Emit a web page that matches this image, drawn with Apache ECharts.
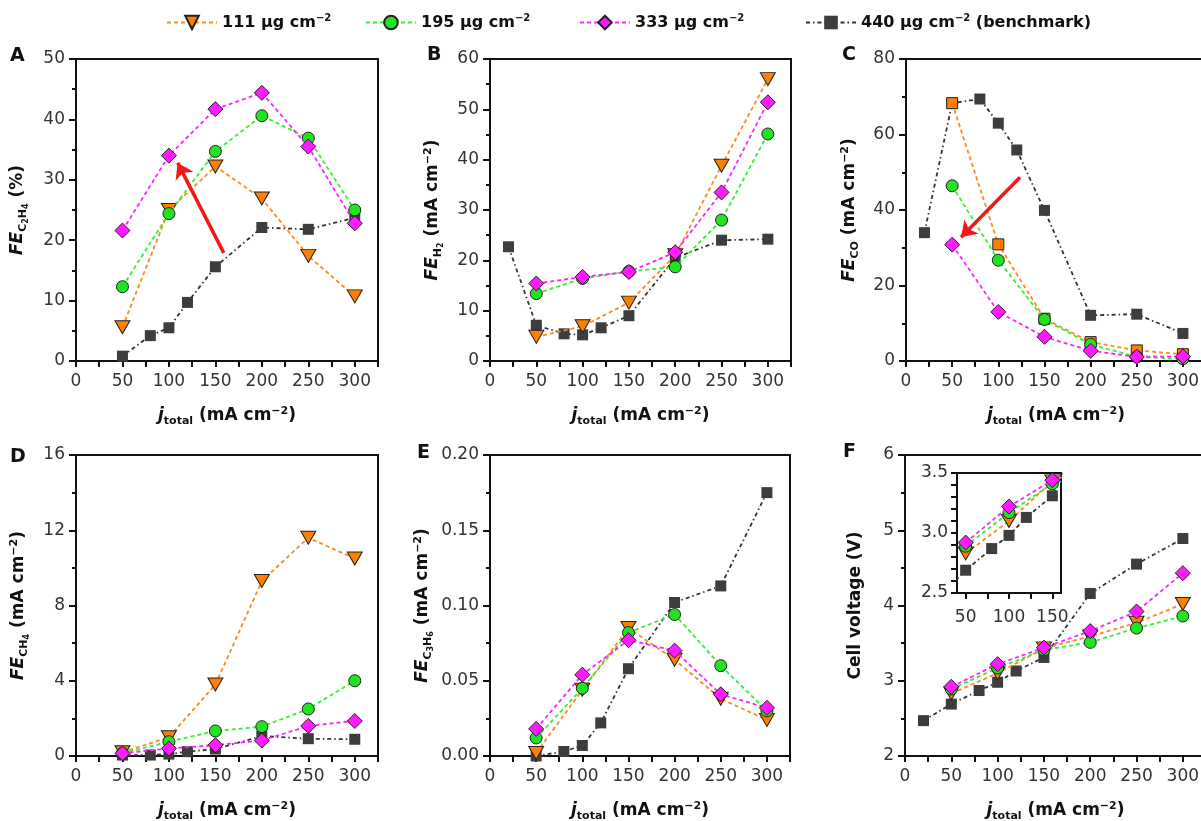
<!DOCTYPE html>
<html>
<head>
<meta charset="utf-8">
<script src="https://cdn.jsdelivr.net/npm/echarts@6/dist/echarts.min.js"></script>
<style>
  html, body { margin: 0; padding: 0; background: #fff; }
  #chart { width: 1201px; height: 821px; }
</style>
</head>
<body>
<div id="chart"></div>
<script>
// x values: j_total (mA cm-2)
const jSamples = [50, 100, 150, 200, 250, 300];
const jBenchShort = [50, 80, 100, 120, 150, 200, 250, 300];
const jBenchLong = [20, 50, 80, 100, 120, 150, 200, 250, 300];

// A - FE C2H4 (%)
const c2h4_111 = [5.6, 25.0, 32.2, 26.9, 17.4, 10.7];
const c2h4_195 = [12.3, 24.4, 34.7, 40.6, 36.9, 25.0];
const c2h4_333 = [21.6, 34.0, 41.7, 44.4, 35.5, 22.8];
const c2h4_440 = [0.8, 4.2, 5.5, 9.7, 15.6, 22.1, 21.8, 23.7];

// B - FE H2
const h2_111 = [4.8, 6.9, 11.6, 21.0, 38.8, 56.0];
const h2_195 = [13.4, 16.4, 17.8, 18.7, 28.0, 45.1];
const h2_333 = [15.4, 16.7, 17.7, 21.6, 33.5, 51.4];
const h2_440 = [22.7, 7.1, 5.4, 5.2, 6.6, 9.0, 20.5, 24.0, 24.2];

// C - FE CO
const co_111 = [68.3, 30.9, 11.2, 5.0, 2.8, 1.8];
const co_195 = [46.4, 26.7, 11.0, 4.4, 1.1, 0.6];
const co_333 = [30.8, 13.0, 6.4, 2.7, 1.1, 1.2];
const co_440 = [34.0, 68.3, 69.4, 63.0, 55.9, 39.9, 12.1, 12.4, 7.3];

// D - FE CH4
const ch4_111 = [0.2, 1.0, 3.8, 9.3, 11.6, 10.5];
const ch4_195 = [0.15, 0.76, 1.33, 1.56, 2.5, 4.0];
const ch4_333 = [0.14, 0.4, 0.58, 0.82, 1.6, 1.86];
const ch4_440 = [0.05, 0.05, 0.1, 0.23, 0.37, 1.06, 0.92, 0.89];

// E - FE C3H6
const c3h6_111 = [0.002, 0.044, 0.085, 0.064, 0.038, 0.024];
const c3h6_195 = [0.012, 0.045, 0.082, 0.094, 0.060, 0.030];
const c3h6_333 = [0.018, 0.054, 0.077, 0.070, 0.041, 0.032];
const c3h6_440 = [0, 0.003, 0.007, 0.022, 0.058, 0.102, 0.113, 0.175];

// F - cell voltage (V)
const volt_111 = [2.83, 3.10, 3.43, 3.59, 3.77, 4.02];
const volt_195 = [2.89, 3.17, 3.41, 3.51, 3.70, 3.86];
const volt_333 = [2.92, 3.22, 3.44, 3.66, 3.92, 4.43];
const volt_440 = [2.47, 2.69, 2.87, 2.98, 3.13, 3.31, 4.16, 4.55, 4.89];

// tick labels
const xTickValues = [0, 25, 50, 75, 100, 125, 150, 175, 200, 225, 250, 275, 300, 325];
const xLabelValues = [0, 50, 100, 150, 200, 250, 300];
const insetTickValues = [50, 75, 100, 125, 150];
const insetLabelValues = [50, 100, 150];

// legend
const seriesNames = ['111', '195', '333', '440'];
const legendLabels = [
  '{b|111 µg cm}{sup|−2}',
  '{b|195 µg cm}{sup|−2}',
  '{b|333 µg cm}{sup|−2}',
  '{b|440 µg cm}{sup|−2}{b| (benchmark)}'
];

// red arrows (data coords: from -> to)
const arrowA = [[159, 17.9], [109.4, 32.8]];
const arrowC = [[123.6, 48.7], [59.6, 32.8]];

const FONT = 'DejaVu Sans';
const INK = '#111';

const looks = {
  '111': { color: '#FF7F00', line: '#FF8A1A', symbol: 'triangle', size: [15, 13], rotate: 180, dash: [4, 3] },
  '195': { color: '#22E322', line: '#33EE33', symbol: 'circle', size: 12, rotate: 0, dash: [4, 3] },
  '333': { color: '#FF1AFF', line: '#FF22FF', symbol: 'diamond', size: [15, 15], rotate: 0, dash: [4, 3] },
  '440': { color: '#3d3d3d', line: '#333333', symbol: 'rect', size: 11, rotate: 0, dash: [4, 3, 1.5, 3] }
};

const rich = {
  it: { fontFamily: FONT, fontSize: 17, fontWeight: 'bold', fontStyle: 'italic', color: INK },
  b: { fontFamily: FONT, fontSize: 17, fontWeight: 'bold', color: INK },
  sub: { fontFamily: FONT, fontSize: 11, fontWeight: 'bold', color: INK, padding: [12, 0, 0, 0] },
  sub2: { fontFamily: FONT, fontSize: 8, fontWeight: 'bold', color: INK, padding: [17, 0, 0, 0] },
  sup: { fontFamily: FONT, fontSize: 11, fontWeight: 'bold', color: INK, padding: [0, 0, 9, 0] }
};

const xName = '{it|j}{sub|total}{b| (mA cm}{sup|−2}{b|)}';
const mAcm = '{b| (mA cm}{sup|−2}{b|)}';

const panels = [
  { letter: 'A', lx: 10, ly: 47, grid: { left: 76, top: 59, width: 302, height: 302 },
    yMax: 50, yMin: 0, yInt: 10, yName: '{it|FE}{sub|C}{sub2|2}{sub|H}{sub2|4}{b| (%)}', yGap: 46, dec: 0,
    bench: jBenchShort, vals: [c2h4_111, c2h4_195, c2h4_333, c2h4_440], arrow: arrowA },
  { letter: 'B', lx: 427, ly: 46, grid: { left: 490, top: 59, width: 301, height: 302 },
    yMax: 60, yMin: 0, yInt: 10, yName: '{it|FE}{sub|H}{sub2|2}' + mAcm, yGap: 45, dec: 0,
    bench: jBenchLong, vals: [h2_111, h2_195, h2_333, h2_440] },
  { letter: 'C', lx: 842, ly: 46, grid: { left: 906, top: 59, width: 300, height: 302 },
    yMax: 80, yMin: 0, yInt: 20, yName: '{it|FE}{sub|CO}' + mAcm, yGap: 45, dec: 0,
    bench: jBenchLong, vals: [co_111, co_195, co_333, co_440], arrow: arrowC, orangeRect: true },
  { letter: 'D', lx: 10, ly: 448, grid: { left: 76, top: 455, width: 302, height: 301 },
    yMax: 16, yMin: 0, yInt: 4, yName: '{it|FE}{sub|CH}{sub2|4}' + mAcm, yGap: 45, dec: 0,
    bench: jBenchShort, vals: [ch4_111, ch4_195, ch4_333, ch4_440] },
  { letter: 'E', lx: 417, ly: 444, grid: { left: 490, top: 455, width: 300, height: 301 },
    yMax: 0.2, yMin: 0, yInt: 0.05, yName: '{it|FE}{sub|C}{sub2|3}{sub|H}{sub2|6}' + mAcm, yGap: 55, dec: 2,
    bench: jBenchShort, vals: [c3h6_111, c3h6_195, c3h6_333, c3h6_440] },
  { letter: 'F', lx: 843, ly: 443, grid: { left: 905, top: 455, width: 301, height: 301 },
    yMax: 6, yMin: 2, yInt: 1, yName: '{b|Cell voltage (V)}', yGap: 41, dec: 0,
    bench: jBenchLong, vals: [volt_111, volt_195, volt_333, volt_440] }
];

function pairs(xs, ys) {
  return xs.map((x, i) => [x, ys[i]]);
}

const axisLine = { show: true, lineStyle: { color: INK, width: 2 } };
const labelStyle = { fontFamily: FONT, fontSize: 17, color: '#333' };

const grids = [], xAxes = [], yAxes = [], series = [], titles = [];

panels.forEach((p, gi) => {
  grids.push(Object.assign({
    show: true, borderColor: INK, borderWidth: 2, containLabel: false, outerBoundsMode: 'none'
  }, p.grid));
  titles.push({
    text: p.letter, left: p.lx, top: p.ly, padding: 0,
    textStyle: { fontFamily: FONT, fontSize: 19, fontWeight: 'bold', color: INK }
  });
  xAxes.push({
    type: 'value', gridIndex: gi, min: 0, max: 325,
    axisLine: axisLine,
    axisTick: { show: true, customValues: xTickValues, length: 6, lineStyle: { color: INK, width: 2 } },
    axisLabel: Object.assign({ customValues: xLabelValues, margin: 12 }, labelStyle),
    splitLine: { show: false },
    name: xName, nameLocation: 'middle', nameGap: 43,
    nameTextStyle: { fontFamily: FONT, fontSize: 17, fontWeight: 'bold', color: INK, rich: rich }
  });
  yAxes.push({
    type: 'value', gridIndex: gi, min: p.yMin, max: p.yMax, interval: p.yInt,
    axisLine: axisLine,
    axisTick: { show: true, length: 7, lineStyle: { color: INK, width: 2 } },
    minorTick: { show: true, splitNumber: 2, length: 4, lineStyle: { color: INK, width: 2 } },
    axisLabel: Object.assign({ margin: 11, formatter: v => v.toFixed(p.dec) }, labelStyle),
    splitLine: { show: false },
    name: p.yName, nameLocation: 'middle', nameGap: p.yGap, nameRotate: 90,
    nameTextStyle: { fontFamily: FONT, fontSize: 17, fontWeight: 'bold', color: INK, rich: rich }
  });

  // benchmark first so it sits underneath
  const order = [3, 0, 1, 2];
  order.forEach(k => {
    const name = seriesNames[k];
    const lk = looks[name];
    const xs = k === 3 ? p.bench : jSamples;
    let symbol = lk.symbol, size = lk.size, rotate = lk.rotate;
    if (p.orangeRect && k === 0) { symbol = 'rect'; size = 11; rotate = 0; }
    const s = {
      name: name, type: 'line', xAxisIndex: gi, yAxisIndex: gi,
      data: pairs(xs, p.vals[k]),
      symbol: symbol, symbolSize: size, symbolRotate: rotate,
      clip: false,
      lineStyle: { color: lk.line, width: 1.8, type: lk.dash },
      itemStyle: {
        color: lk.color,
        borderColor: k === 3 ? lk.color : '#222',
        borderWidth: k === 3 ? 0 : 1
      },
      emphasis: { disabled: true },
      z: 2 + order.indexOf(k)
    };
    if (k === 3 && p.arrow) {
      s.markLine = {
        silent: true, symbol: ['none', 'arrow'], symbolSize: 15,
        lineStyle: { color: '#F21818', width: 3.5, type: 'solid' },
        label: { show: false },
        emphasis: { disabled: true },
        data: [[{ coord: p.arrow[0] }, { coord: p.arrow[1] }]]
      };
    }
    series.push(s);
  });
});

// inset of panel F
const insetIdx = panels.length;
grids.push({
  show: true, left: 957, top: 473, width: 104, height: 120, borderColor: INK, borderWidth: 2,
  backgroundColor: '#fff', z: 3, containLabel: false, outerBoundsMode: 'none'
});
xAxes.push({
  type: 'value', gridIndex: insetIdx, min: 40, max: 160, z: 4,
  axisLine: axisLine,
  axisTick: { show: true, customValues: insetTickValues, length: 6, lineStyle: { color: INK, width: 2 } },
  axisLabel: Object.assign({ customValues: insetLabelValues, margin: 16 }, labelStyle),
  splitLine: { show: false }
});
yAxes.push({
  type: 'value', gridIndex: insetIdx, min: 2.5, max: 3.5, interval: 0.5, z: 4,
  axisLine: axisLine,
  axisTick: { show: true, length: 6, lineStyle: { color: INK, width: 2 } },
  minorTick: { show: true, splitNumber: 5, length: 6, lineStyle: { color: INK, width: 2 } },
  axisLabel: Object.assign({ margin: 9, formatter: v => v.toFixed(1) }, labelStyle),
  splitLine: { show: false }
});
const fPanel = panels[5];
[3, 0, 1, 2].forEach((k, oi) => {
  const name = seriesNames[k];
  const lk = looks[name];
  series.push({
    name: name, type: 'line', xAxisIndex: insetIdx, yAxisIndex: insetIdx,
    data: pairs(k === 3 ? fPanel.bench : jSamples, fPanel.vals[k]),
    symbol: lk.symbol, symbolSize: lk.size, symbolRotate: lk.rotate,
    clip: true,
    lineStyle: { color: lk.line, width: 1.8, type: lk.dash },
    itemStyle: { color: lk.color, borderColor: k === 3 ? lk.color : '#222', borderWidth: k === 3 ? 0 : 1 },
    emphasis: { disabled: true },
    z: 5 + oi
  });
});

const legendLeft = [161, 360, 574, 800];
const legends = seriesNames.map((n, i) => ({
  data: [n], left: legendLeft[i], top: 8,
  itemWidth: 50, itemHeight: 17, selectedMode: false,
  formatter: () => legendLabels[i],
  textStyle: {
    fontFamily: FONT, fontSize: 16, fontWeight: 'bold', color: INK,
    rich: {
      b: { fontFamily: FONT, fontSize: 16, fontWeight: 'bold', color: INK },
      sup: { fontFamily: FONT, fontSize: 10, fontWeight: 'bold', color: INK, padding: [0, 0, 9, 0] }
    }
  }
}));

const chart = echarts.init(document.getElementById('chart'));
chart.setOption({
  animation: false,
  backgroundColor: '#fff',
  title: titles,
  legend: legends,
  grid: grids,
  xAxis: xAxes,
  yAxis: yAxes,
  series: series
});
</script>
</body>
</html>
